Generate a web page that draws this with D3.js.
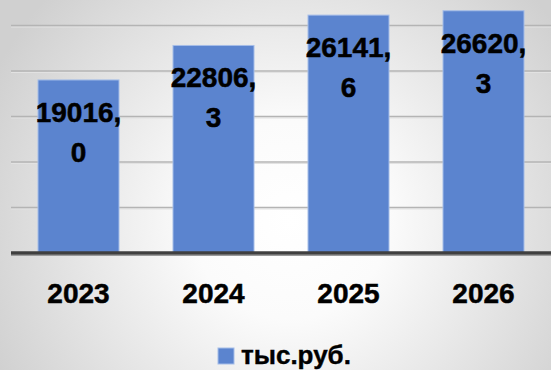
<!DOCTYPE html>
<html>
<head>
<meta charset="utf-8">
<script src="https://cdn.jsdelivr.net/npm/d3@7"></script>
<style>
  html, body { margin: 0; padding: 0; background: #fff; }
  svg { display: block; }
</style>
</head>
<body>
<svg id="chart" width="551" height="370"></svg>
<script>
// Annual amounts, thousand roubles
const years = ["2023", "2024", "2025", "2026"];
const values = [19016.0, 22806.3, 26141.6, 26620.3];
const valueLabels = ["19016,0", "22806,3", "26141,6", "26620,3"];
const gridTicks = [5000, 10000, 15000, 20000, 25000];
const seriesName = "тыс.руб.";

const W = 551, H = 370;
const svg = d3.select("#chart");
const font = "'Liberation Sans', Arial, sans-serif";

// Background: soft radial grey-to-white
const defs = svg.append("defs");
const bg = defs.append("radialGradient").attr("id", "bg")
  .attr("gradientUnits", "userSpaceOnUse")
  .attr("cx", 290).attr("cy", 220).attr("r", 330);
bg.append("stop").attr("offset", "0%").attr("stop-color", "#ffffff");
bg.append("stop").attr("offset", "30%").attr("stop-color", "#fbfbfb");
bg.append("stop").attr("offset", "100%").attr("stop-color", "#d0d0d0");
svg.append("rect").attr("width", W).attr("height", H).attr("fill", "url(#bg)");

const x = d3.scaleBand().domain(years).range([11, 551])
  .paddingInner(0.4).paddingOuter(0.2);
const y = d3.scaleLinear().domain([0, 30000]).range([253, -20]);

// Gridlines
const grid = svg.append("g");
grid.selectAll("line.shadow").data(gridTicks).join("line")
  .attr("x1", 11).attr("x2", W)
  .attr("y1", d => y(d) + 1.5).attr("y2", d => y(d) + 1.5)
  .attr("stroke", "#e2e2e2").attr("stroke-width", 1);
grid.selectAll("line.main").data(gridTicks).join("line")
  .attr("x1", 11).attr("x2", W)
  .attr("y1", d => y(d)).attr("y2", d => y(d))
  .attr("stroke", "#b4b4b4").attr("stroke-width", 1.5);

// Bars
svg.append("g").selectAll("rect").data(values).join("rect")
  .attr("x", (d, i) => x(years[i]))
  .attr("y", d => y(d))
  .attr("width", x.bandwidth())
  .attr("height", d => y(0) - y(d))
  .attr("fill", "#5b84cf")
  .attr("stroke", "#a5bde8").attr("stroke-width", 1);

// Value labels, wrapped after the comma
const lbl = svg.append("g").attr("font-family", font).attr("font-weight", "bold")
  .attr("font-size", 28).attr("fill", "#000").attr("text-anchor", "middle")
  .attr("stroke", "#000").attr("stroke-width", 0.5);
valueLabels.forEach((s, i) => {
  const parts = s.split(",");
  const cx = x(years[i]) + x.bandwidth() / 2;
  const top = y(values[i]);
  lbl.append("text").attr("x", cx).attr("y", top + 42).text(parts[0] + ",");
  lbl.append("text").attr("x", cx).attr("y", top + 82).text(parts[1]);
});

// Category axis
const axis = svg.append("g").attr("transform", `translate(0,${y(0)})`)
  .call(d3.axisBottom(x).tickSize(0).tickPadding(0));
axis.select(".domain").remove();
axis.append("line").attr("x1", 11).attr("x2", W).attr("y1", 0).attr("y2", 0)
  .attr("stroke", "#3f3f3f").attr("stroke-width", 3.5);
axis.append("line").attr("x1", 11).attr("x2", W).attr("y1", 2.5).attr("y2", 2.5)
  .attr("stroke", "#9a9a9a").attr("stroke-width", 1);
axis.selectAll(".tick text")
  .attr("font-family", font).attr("font-weight", "bold").attr("font-size", 28)
  .attr("fill", "#000").attr("stroke", "#000").attr("stroke-width", 0.5)
  .attr("dy", null).attr("y", 50);

// Legend
const leg = svg.append("g");
leg.append("rect").attr("x", 218).attr("y", 348).attr("width", 16).attr("height", 16)
  .attr("fill", "#5b84cf").attr("stroke", "#a5bde8").attr("stroke-width", 1);
leg.append("text").attr("x", 241).attr("y", 364)
  .attr("font-family", font).attr("font-weight", "bold").attr("font-size", 26)
  .attr("fill", "#000").attr("stroke", "#000").attr("stroke-width", 0.4)
  .text(seriesName);
</script>
</body>
</html>
